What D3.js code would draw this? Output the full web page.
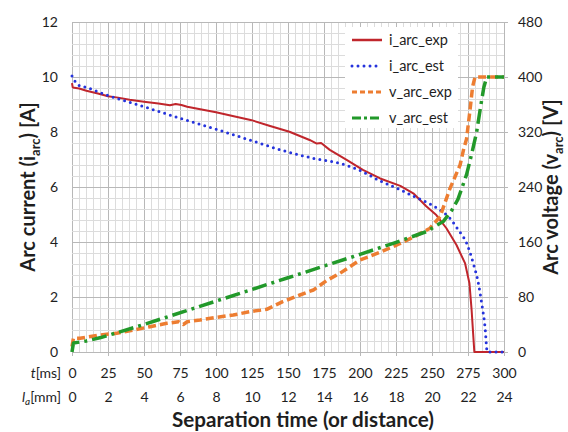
<!DOCTYPE html>
<html>
<head>
<meta charset="utf-8">
<script src="https://cdn.jsdelivr.net/npm/d3@7"></script>
<style>
  html, body { margin: 0; padding: 0; background: #fff; }
  svg { display: block; }
  text { font-family: Lato, "Open Sans", sans-serif; fill: #1e1e1e; }
</style>
</head>
<body>
<svg id="chart" width="568" height="432"></svg>
<script>
// Tick labels
const tMsTicks = [0, 25, 50, 75, 100, 125, 150, 175, 200, 225, 250, 275, 300];
const laMmTicks = [0, 2, 4, 6, 8, 10, 12, 14, 16, 18, 20, 22, 24];
const currentTicks = [0, 2, 4, 6, 8, 10, 12];
const voltageTicks = [0, 80, 160, 240, 320, 400, 480];

// Series names
const seriesNames = ["i_arc_exp", "i_arc_est", "v_arc_exp", "v_arc_est"];

// Measured arc current [t (ms), A]
const iArcExp = [
  [0, 9.78], [0.5, 9.62], [5, 9.58], [10, 9.5], [18, 9.4], [25, 9.3], [32, 9.25],
  [40, 9.17], [50, 9.1], [60, 9.04], [68, 8.97], [72, 9.02], [76, 8.98], [80, 8.92],
  [90, 8.82], [100, 8.72], [110, 8.6], [124, 8.44], [137, 8.23], [151, 8.01],
  [165, 7.71], [170, 7.58], [173, 7.6], [179, 7.35], [191, 6.98], [202, 6.62],
  [214, 6.31], [228, 6.04], [237, 5.77], [246, 5.3], [253, 4.98], [260, 4.5],
  [267, 3.89], [273, 3.22], [276, 2.5], [277.5, 1.53], [279.4, 0], [300, 0]
];

// Estimated arc current [t (ms), A]
const iArcEst = [
  [0, 10.04], [4.4, 9.71], [10, 9.62], [25, 9.33], [50, 8.92], [75, 8.5], [100, 8.1],
  [121, 7.75], [145, 7.35], [168, 7.04], [186, 6.86], [200, 6.6], [214, 6.22],
  [228, 5.9], [237, 5.67], [246, 5.45], [255.6, 5.16], [262.5, 4.86], [268.3, 4.44],
  [274.1, 3.95], [278.7, 3.22], [282.2, 2.5], [284.5, 1.77], [286.8, 0.92],
  [288.4, 0], [300, 0]
];

// Measured arc voltage [t (ms), V]
const vArcExp = [
  [0, 8], [1, 20], [5.6, 20], [19.4, 24.7], [31, 27.2], [42.6, 32], [54.2, 36.8],
  [65.8, 41.7], [74, 44], [77.3, 40], [80, 44], [88.9, 46.5], [100.5, 50.4],
  [112, 53.8], [123.6, 58.7], [135.2, 62], [146, 73], [158.3, 82.9], [167.6, 90.2],
  [176.9, 104], [186.1, 114.5], [200, 133.8], [213.9, 145], [225.5, 155.6],
  [237, 167], [248.6, 180], [255.6, 196.8], [262.5, 238], [265, 250], [269.5, 272],
  [272, 295], [274, 310], [276.4, 352], [278.2, 386], [279.9, 400], [300, 400]
];

// Estimated arc voltage [t (ms), V]
const vArcEst = [
  [0, 0], [1, 13], [10, 16], [20, 21], [50, 40], [100, 74], [150, 108], [200, 142],
  [223, 158], [246, 175], [257.9, 190], [263.7, 206], [268, 222], [274, 258],
  [278, 292], [281, 320], [284, 360], [286, 385], [288, 400], [300, 400]
];

const svg = d3.select("#chart");
const plotLeft = 72, plotRight = 504, plotTop = 22, plotBottom = 352;

const x = d3.scaleLinear().domain([0, 300]).range([plotLeft, plotRight]);
const xMm = d3.scaleLinear().domain([0, 24]).range([plotLeft, plotRight]);
const yA = d3.scaleLinear().domain([0, 12]).range([plotBottom, plotTop]);
const yV = d3.scaleLinear().domain([0, 480]).range([plotBottom, plotTop]);

// Grid: minor every 5 ms / 0.4 A, major every 25 ms / 2 A
const grid = svg.append("g");
grid.selectAll("line.vx").data(d3.range(0, 301, 5)).join("line")
  .attr("x1", d => x(d)).attr("x2", d => x(d))
  .attr("y1", plotTop).attr("y2", plotBottom)
  .attr("stroke", d => d % 25 === 0 ? "#b8b8b8" : "#dcdcdc")
  .attr("stroke-width", 1).attr("shape-rendering", "crispEdges");
grid.selectAll("line.hy").data(d3.range(0, 31)).join("line")
  .attr("x1", plotLeft).attr("x2", plotRight)
  .attr("y1", d => yA(d * 0.4)).attr("y2", d => yA(d * 0.4))
  .attr("stroke", d => d % 5 === 0 ? "#b8b8b8" : "#dcdcdc")
  .attr("stroke-width", 1).attr("shape-rendering", "crispEdges");

// Axes
function styleAxis(g) {
  g.select(".domain").remove();
  g.selectAll(".tick line").attr("stroke", "#b8b8b8");
  g.selectAll("text").style("font-size", "14px").attr("fill", "#1e1e1e");
}

svg.append("g").attr("transform", `translate(${plotLeft},0)`)
  .call(d3.axisLeft(yA).tickValues(currentTicks).tickSize(0).tickPadding(14).tickFormat(d3.format("d")))
  .call(styleAxis);

svg.append("g").attr("transform", `translate(${plotRight},0)`)
  .call(d3.axisRight(yV).tickValues(voltageTicks).tickSize(4).tickPadding(10).tickFormat(d3.format("d")))
  .call(styleAxis);

const axT = svg.append("g").attr("transform", `translate(0,${plotBottom})`)
  .call(d3.axisBottom(x).tickValues(tMsTicks).tickSize(4).tickFormat(d3.format("d")))
  .call(styleAxis);
axT.selectAll("text").attr("dy", null).attr("y", 26);

const axL = svg.append("g").attr("transform", `translate(0,${plotBottom})`)
  .call(d3.axisBottom(xMm).tickValues(laMmTicks).tickSize(0).tickFormat(d3.format("d")))
  .call(styleAxis);
axL.selectAll("text").attr("dy", null).attr("y", 50);

// Row captions for the two bottom scales
const cap1 = svg.append("text").attr("x", 61).attr("y", plotBottom + 26)
  .attr("text-anchor", "end").style("font-size", "14px");
cap1.append("tspan").style("font-style", "italic").text("t");
cap1.append("tspan").text("[ms]");

const cap2 = svg.append("text").attr("x", 61).attr("y", plotBottom + 50)
  .attr("text-anchor", "end").style("font-size", "14px");
cap2.append("tspan").style("font-style", "italic").text("l");
cap2.append("tspan").style("font-style", "italic").style("font-size", "10px").attr("dy", 3).text("a");
cap2.append("tspan").attr("dy", -3).text("[mm]");

// Axis titles
const titleStyle = t => t.style("font-size", "20px").style("font-weight", "bold");

svg.append("text").attr("x", 303).attr("y", 427).attr("text-anchor", "middle")
  .attr("textLength", 262).attr("lengthAdjust", "spacingAndGlyphs")
  .call(titleStyle).text("Separation time (or distance)");

const lt = svg.append("text")
  .attr("transform", `translate(28,${(plotTop + plotBottom) / 2}) rotate(-90)`)
  .attr("text-anchor", "middle").attr("dy", "0.35em")
  .call(titleStyle);
lt.append("tspan").text("Arc current (i");
lt.append("tspan").style("font-size", "13px").attr("dy", 5).text("arc");
lt.append("tspan").attr("dy", -5).text(") [A]");

const rt = svg.append("text")
  .attr("transform", `translate(551,${(plotTop + plotBottom) / 2}) rotate(-90)`)
  .attr("text-anchor", "middle").attr("dy", "0.35em")
  .call(titleStyle);
rt.append("tspan").text("Arc voltage (v");
rt.append("tspan").style("font-size", "13px").attr("dy", 5).text("arc");
rt.append("tspan").attr("dy", -5).text(") [V]");

// Series styles
const styles = [
  { data: iArcExp, y: yA, color: "#c0262c", width: 2, dash: null, cap: "butt", legendDash: null, curve: d3.curveLinear },
  { data: iArcEst, y: yA, color: "#2533dc", width: 3, dash: "0 6", cap: "round", legendDash: "0 6", curve: d3.curveMonotoneX },
  { data: vArcExp, y: yV, color: "#ed7d31", width: 3.5, dash: "8 4", cap: "butt", legendDash: "5 3", curve: d3.curveLinear },
  { data: vArcEst, y: yV, color: "#22992a", width: 3.5, dash: "15 5 3 5", cap: "butt", legendDash: "9 3 3 3", curve: d3.curveLinear }
];

const lines = svg.append("g");
styles.forEach(s => {
  const gen = d3.line().x(d => x(d[0])).y(d => s.y(d[1])).curve(s.curve);
  lines.append("path").datum(s.data)
    .attr("d", gen)
    .attr("fill", "none")
    .attr("stroke", s.color)
    .attr("stroke-width", s.width)
    .attr("stroke-linecap", s.cap)
    .attr("stroke-linejoin", "round")
    .attr("stroke-dasharray", s.dash);
});

// Legend
const lg = svg.append("g");
lg.append("rect").attr("x", 345).attr("y", 27).attr("width", 113).attr("height", 101)
  .attr("fill", "#fff");
seriesNames.forEach((name, i) => {
  const s = styles[i];
  const cy = 40 + i * 26;
  lg.append("line").attr("x1", 352).attr("x2", 382).attr("y1", cy).attr("y2", cy)
    .attr("stroke", s.color).attr("stroke-width", s.width === 2 ? 2.5 : 3)
    .attr("stroke-linecap", s.cap).attr("stroke-dasharray", s.legendDash);
  lg.append("text").attr("x", 389).attr("y", cy).attr("dy", "0.32em")
    .style("font-size", "14.5px").text(name);
});
</script>
</body>
</html>
